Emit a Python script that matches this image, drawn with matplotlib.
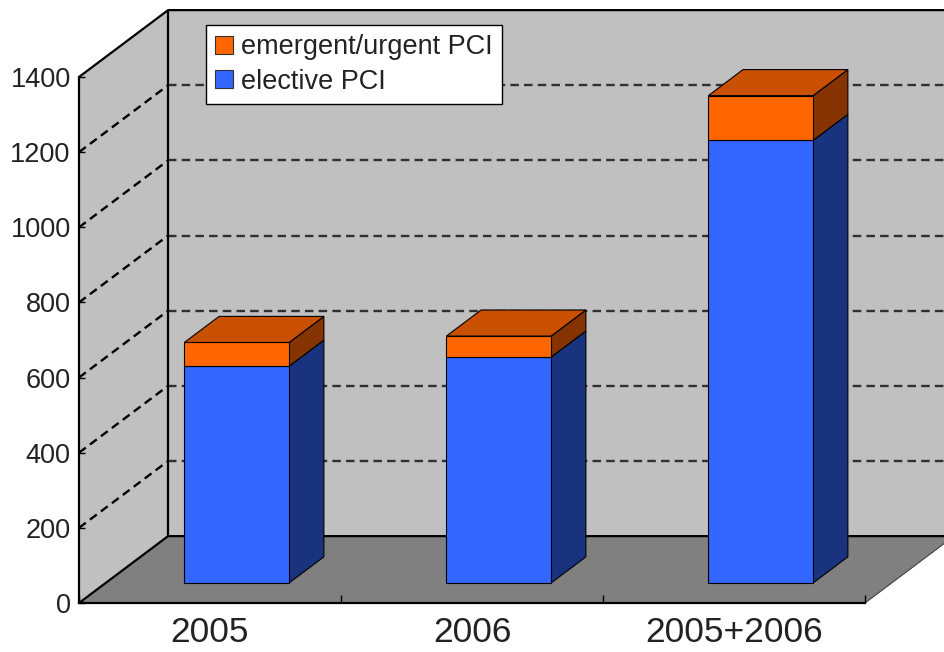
import matplotlib

matplotlib.use("Agg")
import matplotlib.pyplot as plt
from matplotlib.patches import Patch, Polygon

categories = ["2005", "2006", "2005+2006"]
elective = [577, 601, 1178]
emergent = [63, 56, 119]
y_ticks = [0, 200, 400, 600, 800, 1000, 1200, 1400]
series_names = ["emergent/urgent PCI", "elective PCI"]

WALL = "#c0c0c0"
FLOOR = "#808080"
BLUE = ("#3366ff", "#1a337f", "#2850cc")  # front, side, top
ORANGE = ("#ff6600", "#853300", "#c85000")

# oblique depth offset (category units, value units) and bar depth span
DX, DY = 0.34, 178.0
D0, D1 = 0.30, 0.69
BAR_W = 0.40
Y_MAX = 1400
X_RIGHT = 3.35


def pt(x, y, d):
    return (x + d * DX, y + d * DY)


def poly(ax, pts, face, edge="black", lw=0.8, z=1):
    ax.add_patch(Polygon(pts, closed=True, facecolor=face, edgecolor=edge,
                         linewidth=lw, zorder=z, clip_on=False, joinstyle="miter"))


def draw_box(ax, x0, x1, y0, y1, colors, top=True, z=5):
    front, side, lid = colors
    poly(ax, [pt(x1, y0, D0), pt(x1, y0, D1), pt(x1, y1, D1), pt(x1, y1, D0)], side, z=z)
    poly(ax, [pt(x0, y0, D0), pt(x1, y0, D0), pt(x1, y1, D0), pt(x0, y1, D0)], front, z=z)
    if top:
        poly(ax, [pt(x0, y1, D0), pt(x1, y1, D0), pt(x1, y1, D1), pt(x0, y1, D1)], lid, z=z)


fig = plt.figure(figsize=(9.45, 6.52), dpi=100)
fig.patch.set_facecolor("white")
ax = fig.add_axes([79 / 945, 49 / 652, 786 / 945, 526 / 652])
ax.set_xlim(0, 3)
ax.set_ylim(0, Y_MAX)
ax.patch.set_visible(False)

# walls and floor
poly(ax, [pt(0, 0, 1), pt(X_RIGHT, 0, 1), pt(X_RIGHT, Y_MAX, 1), pt(0, Y_MAX, 1)], WALL, edge="none", z=0)
poly(ax, [pt(0, 0, 0), pt(0, 0, 1), pt(0, Y_MAX, 1), pt(0, Y_MAX, 0)], WALL, edge="none", z=0)
poly(ax, [pt(0, 0, 0), pt(3, 0, 0), pt(3, 0, 1), pt(X_RIGHT, 0, 1), pt(0, 0, 1)],
     FLOOR, edge="none", z=0.5)
ax.plot(*zip(pt(3, 0, 0), pt(3, 0, 1)), color="#404040", lw=0.8, clip_on=False, zorder=0.6)

# gridlines on side and back walls
for v in y_ticks[1:-1]:
    ax.plot(*zip(pt(0, v, 0), pt(0, v, 1)), color="black", lw=1.7, ls=(0, (3.6, 2.2)),
            clip_on=False, zorder=0.4)
    ax.plot(*zip(pt(0, v, 1), pt(X_RIGHT, v, 1)), color="#303030", lw=1.7, ls=(0, (3.6, 2.2)),
            clip_on=False, zorder=0.4)

# wall edges
edge_kw = dict(color="black", lw=1.6, clip_on=False, zorder=0.7, solid_capstyle="butt")
ax.plot(*zip(pt(0, 0, 1), pt(0, Y_MAX, 1)), **edge_kw)
ax.plot(*zip(pt(0, Y_MAX, 0), pt(0, Y_MAX, 1), pt(X_RIGHT, Y_MAX, 1)), **edge_kw)
ax.plot(*zip(pt(0, 0, 0), pt(0, 0, 1), pt(X_RIGHT, 0, 1)), **edge_kw)

# stacked bars
for i in range(len(categories)):
    x0 = i + 0.5 - BAR_W / 2
    x1 = i + 0.5 + BAR_W / 2
    base = 0
    draw_box(ax, x0, x1, base, base + elective[i], BLUE, top=False)
    base += elective[i]
    draw_box(ax, x0, x1, base, base + emergent[i], ORANGE, top=True)

# axes
for s in ("top", "right"):
    ax.spines[s].set_visible(False)
for s in ("left", "bottom"):
    ax.spines[s].set_linewidth(1.6)
    ax.spines[s].set_zorder(0.8)
ax.set_yticks(y_ticks)
ax.set_yticklabels([str(v) for v in y_ticks])
ax.tick_params(axis="y", direction="in", length=4, width=1, pad=6, labelsize=19.5,
               labelcolor="#222222")
ax.set_xticks([0, 1, 2, 3])
ax.set_xticklabels([])
ax.set_xticks([0.5, 1.5, 2.5], minor=True)
ax.set_xticklabels(categories, minor=True)
ax.tick_params(axis="x", which="major", direction="in", length=6, width=1)
ax.tick_params(axis="x", which="minor", length=0, pad=9, labelsize=25.5, labelcolor="#222222")

handles = [Patch(facecolor=ORANGE[0], edgecolor="#333333", lw=0.8),
           Patch(facecolor=BLUE[0], edgecolor="#333333", lw=0.8)]
leg = fig.legend(handles, series_names, loc="upper left",
                 bbox_to_anchor=(206 / 945, 1 - 25 / 652), fontsize=19.5,
                 frameon=True, fancybox=False, edgecolor="black", framealpha=1,
                 handlelength=0.65, handleheight=0.65, handletextpad=0.3,
                 borderpad=0.35, labelspacing=0.3, borderaxespad=0)
leg.get_frame().set_linewidth(1.0)
for t in leg.get_texts():
    t.set_color("#222222")

plt.rcParams["font.family"] = ["Liberation Sans", "DejaVu Sans"]
for t in ax.get_yticklabels() + ax.get_xticklabels(minor=True) + leg.get_texts():
    t.set_family(["Liberation Sans", "DejaVu Sans"])

fig.savefig("out.png", dpi=100, facecolor="white")
